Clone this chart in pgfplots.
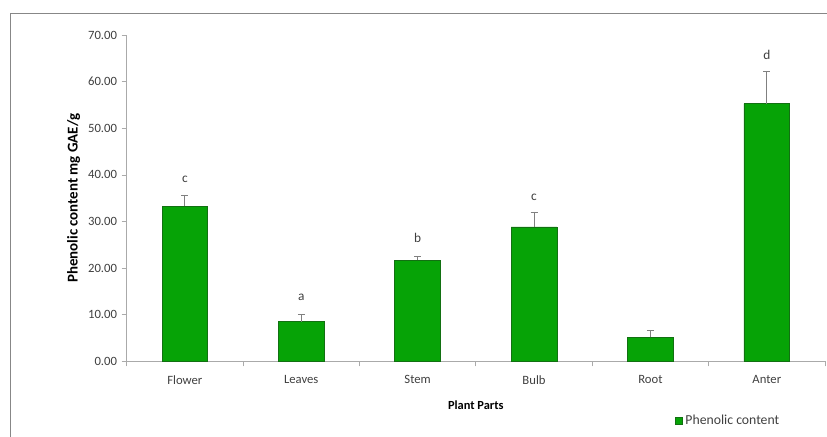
\documentclass[border=0pt]{standalone}
\usepackage{fontspec}
\setmainfont{Carlito}
\usepackage{pgfplots}
\pgfplotsset{compat=1.18}
\usepackage{pgfplotstable}

\definecolor{barGreen}{RGB}{6,163,6}
\definecolor{barEdge}{RGB}{18,112,18}
\definecolor{axisGray}{RGB}{170,170,170}
\definecolor{textGray}{RGB}{64,64,64}
\definecolor{frameGray}{RGB}{135,135,135}

% Phenolic content per plant part (mean and standard deviation)
\pgfplotstableread{
x  y      err
0  33.28  2.42
1  8.49   1.64
2  21.70  0.87
3  28.84  3.22
4  5.14   1.56
5  55.28  6.99
}\phenolic

% Significance letters above the error bars
\pgfplotstableread{
x  ly     lab
0  39.06  c
1  13.70  a
2  26.50  b
3  35.10  c
5  65.70  d
}\letters

\begin{document}
\begin{tikzpicture}
\useasboundingbox (-95.0pt,-56.0pt) rectangle (525.2pt,271.0pt);
\draw[frameGray, line width=0.6pt] (-87.5pt,-60pt) -- (-87.5pt,261.2pt) -- (530pt,261.2pt);
\begin{axis}[
  scale only axis,
  width=523.7pt, height=244.7pt,
  xmin=-0.5, xmax=5.5,
  ymin=0, ymax=70,
  axis lines*=left,
  axis line style={axisGray, line width=0.6pt},
  every tick/.style={axisGray, line width=0.6pt},
  tick align=outside,
  major tick length=3.75pt,
  xtick={-0.5,0.5,...,5.5},
  x tick label as interval,
  xticklabels={Flower,Leaves,Stem,Bulb,Root,Anter},
  ytick={0,10,...,70},
  yticklabel style={/pgf/number format/.cd, fixed, fixed zerofill, precision=2},
  /pgf/number format/assume math mode=true,
  tick label style={font=\fontsize{9.5}{11}\selectfont, text=textGray},
  xticklabel style={yshift=-3.5pt},
  xlabel={\textbf{Plant Parts}},
  ylabel={\textbf{Phenolic content mg GAE/g}},
  xlabel style={font=\fontsize{9.3}{11}\selectfont, text=black, yshift=-5pt},
  ylabel style={font=\fontsize{11.2}{13}\selectfont, text=black, yshift=-1pt},
  legend style={draw=none, fill=none, at={(rel axis cs:0.862,-0.183)}, anchor=center,
    font=\fontsize{10.3}{12}\selectfont, text=textGray, inner sep=0pt},
  legend image code/.code={\draw[#1, line width=0.4pt] (0pt,-2.6pt) rectangle (5.2pt,2.6pt);},
  clip=false,
]
\addplot[ybar, bar width=34.3pt, fill=barGreen, draw=barEdge, line width=0.6pt,
  error bars/.cd, y dir=plus, y explicit,
  error bar style={color=gray, line width=0.6pt},
  error mark options={color=gray, line width=0.6pt, mark size=2.6pt, rotate=90}]
  table[x=x, y=y, y error=err] {\phenolic};
\addlegendentry{Phenolic content}

\addplot[draw=none, forget plot, nodes near coords, point meta=explicit symbolic,
  nodes near coords style={anchor=center, font=\fontsize{10}{12}\selectfont, text=textGray}]
  table[x=x, y=ly, meta=lab] {\letters};
\end{axis}
\end{tikzpicture}
\end{document}
